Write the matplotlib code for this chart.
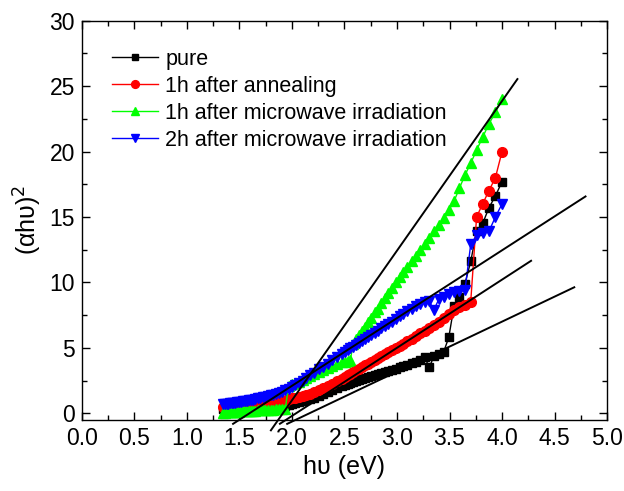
import matplotlib
matplotlib.use("Agg")
import matplotlib.pyplot as plt
import numpy as np
from matplotlib.ticker import MultipleLocator

plt.rcParams['font.family'] = ['Liberation Sans', 'DejaVu Sans']

# wavelengths (nm) of the measured points; photon energy hv = 1240/lambda
wavelength = list(range(310, 505, 5)) + list(range(510, 930, 10))

pure = [17.7, 16.6, 15.7, 14.5, 13.9, 11.6, 9.9, 8.9, 8.2, 5.8, 4.7, 4.5, 4.35, 3.5, 4.3, 4.1, 3.95, 3.82,
        3.7, 3.6, 3.5, 3.4, 3.32, 3.24, 3.16, 3.08, 3.0, 2.93, 2.85, 2.76, 2.68, 2.6, 2.52, 2.44, 2.36, 2.28,
        2.2, 2.13, 2.05,
        1.9, 1.75, 1.6, 1.45, 1.32, 1.2, 1.1, 1.0, 0.93, 0.85, 0.78, 0.7, 0.62, 0.55, 0.52, 0.5, 0.48, 0.46,
        0.45, 0.44, 0.43, 0.42, 0.41, 0.4, 0.39, 0.38, 0.37, 0.36, 0.36, 0.35, 0.35, 0.34, 0.34, 0.33, 0.33,
        0.32, 0.32, 0.31, 0.31, 0.3, 0.3, 0.3]

annealed_1h = [20.0, 18.0, 17.0, 16.0, 15.0, 8.5, 8.3, 8.1, 7.9, 7.6, 7.3, 7.0, 6.75, 6.5, 6.3, 6.1, 5.9, 5.7,
               5.5, 5.3, 5.15, 5.0, 4.85, 4.7, 4.55, 4.4, 4.25, 4.1, 3.95, 3.8, 3.68, 3.55, 3.42, 3.3, 3.17,
               3.03, 2.9, 2.78, 2.65,
               2.45, 2.25, 2.05, 1.9, 1.75, 1.6, 1.5, 1.4, 1.3, 1.25, 1.2, 1.15, 1.1, 0.85, 1.0, 0.97, 0.95,
               0.92, 0.9, 0.87, 0.85, 0.82, 0.8, 0.78, 0.76, 0.74, 0.72, 0.7, 0.68, 0.66, 0.64, 0.62, 0.6,
               0.59, 0.58, 0.56, 0.55, 0.54, 0.53, 0.52, 0.51, 0.5]

microwave_1h = [24.0, 23.0, 22.1, 21.1, 20.1, 19.1, 18.2, 17.2, 16.2, 15.5, 14.9, 14.4, 13.9, 13.4, 12.9,
                12.5, 12.0, 11.6, 11.2, 10.8, 10.4, 10.0, 9.6, 9.2, 8.8, 8.4, 8.0, 7.7, 7.3, 7.0, 6.6, 6.3,
                6.0, 5.7, 5.3, 4.1, 4.0, 3.95, 3.9,
                3.75, 3.6, 3.45, 3.3, 3.15, 3.0, 2.85, 2.7, 2.55, 2.4, 2.3, 2.2, 2.1, 0.35, 0.33, 0.31, 0.3,
                0.28, 0.27, 0.26, 0.25, 0.24, 0.23, 0.22, 0.21, 0.2, 0.19, 0.18, 0.17, 0.16, 0.15, 0.14,
                0.13, 0.12, 0.11, 0.1, 0.09, 0.08, 0.07, 0.06, 0.05, 0.05]

microwave_2h = [16.0, 15.0, 13.9, 13.8, 13.6, 12.9, 9.4, 9.35, 9.25, 9.1, 8.9, 8.7, 7.9, 8.55, 8.5, 8.35,
                8.2, 8.0, 7.8, 7.6, 7.4, 7.2, 7.0, 6.85, 6.65, 6.5, 6.3, 6.15, 6.0, 5.85, 5.7, 5.55, 5.4,
                5.25, 5.1, 4.95, 4.85, 4.7, 4.55,
                4.3, 4.05, 3.8, 3.55, 3.35, 3.1, 2.9, 2.7, 2.5, 2.3, 2.15, 2.0, 1.85, 1.75, 1.65, 1.57, 1.5,
                1.43, 1.37, 1.31, 1.26, 1.21, 1.17, 1.13, 1.09, 1.05, 1.02, 0.99, 0.96, 0.93, 0.9, 0.88,
                0.86, 0.84, 0.82, 0.8, 0.78, 0.76, 0.74, 0.73, 0.72, 0.71]

labels = ['pure', '1h after annealing', '1h after microwave irradiation', '2h after microwave irradiation']

# tangent (Tauc) lines: x start, x end, slope, x-intercept
fit_x_start = [1.80, 1.44, 1.886, 1.955]
fit_x_end = [4.146, 4.794, 4.276, 4.687]
fit_slope = [11.44, 5.18, 5.21, 3.82]
fit_x0 = [1.914, 1.596, 2.04, 2.167]

hv = 1240.0 / np.array(wavelength, dtype=float)

fig = plt.figure(figsize=(6.24, 4.91), dpi=100)
ax = fig.add_axes([0.131, 0.145, 0.842, 0.813])

styles = [dict(color='black', marker='s', ms=6.0),
          dict(color='red', marker='o', ms=7.0),
          dict(color='#00ff00', marker='^', ms=7.0),
          dict(color='blue', marker='v', ms=7.0)]
series = [pure, annealed_1h, microwave_1h, microwave_2h]
for ys, st, lab in zip(series, styles, labels):
    ax.plot(hv, ys, color=st['color'], marker=st['marker'], ms=st['ms'], lw=1.0,
            mec=st['color'], mfc=st['color'], label=lab)

for xs, xe, k, x0 in zip(fit_x_start, fit_x_end, fit_slope, fit_x0):
    xx = np.array([xs, xe])
    ax.plot(xx, k * (xx - x0), color='black', lw=1.4, clip_on=False, zorder=5)

ax.set_xlim(0, 5.0)
ax.set_ylim(-0.5, 30)
ax.xaxis.set_major_locator(MultipleLocator(0.5))
ax.xaxis.set_minor_locator(MultipleLocator(0.25))
ax.yaxis.set_major_locator(MultipleLocator(5))
ax.yaxis.set_minor_locator(MultipleLocator(2.5))
ax.tick_params(which='both', direction='in', top=True, right=True, labelsize=16.5)
ax.tick_params(which='major', length=6, width=1.0, pad=5)
ax.tick_params(which='minor', length=3.5, width=1.0)
for s in ax.spines.values():
    s.set_linewidth(1.0)

ax.set_xlabel('hυ (eV)', fontsize=18, labelpad=4)
ax.set_ylabel('(αhυ)$^{2}$', fontsize=18, labelpad=4)

leg = ax.legend(loc='upper left', bbox_to_anchor=(0.057, 0.93), frameon=False, fontsize=15.5,
                handlelength=2.15, handletextpad=0.33, labelspacing=0.28, borderpad=0,
                borderaxespad=0, markerscale=0.8)

fig.savefig('out.png', dpi=100)
